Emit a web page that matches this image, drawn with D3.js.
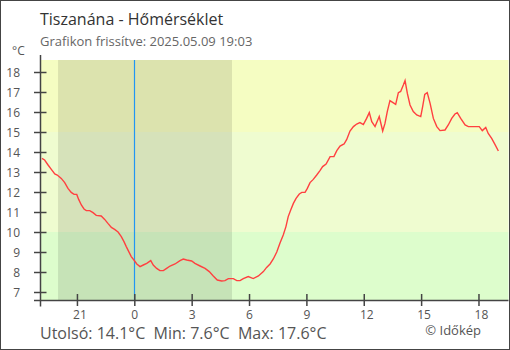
<!DOCTYPE html>
<html>
<head>
<meta charset="utf-8">
<script src="https://cdn.jsdelivr.net/npm/d3@7"></script>
<style>
  html, body { margin: 0; padding: 0; background: #fff; }
  svg { display: block; font-family: "Open Sans", "Noto Sans", sans-serif; }
  text { white-space: pre; }
</style>
</head>
<body>
<svg id="chart" width="510" height="350"></svg>
<script>
// ---- data (hours relative to 2025.05.09 00:00) ----
const hours = [-4.83,-4.69,-4.51,-4.34,-4.16,-4.03,-3.82,-3.64,-3.47,-3.30,-3.15,-3.01,-2.91,-2.77,-2.63,-2.51,-2.33,-2.16,-1.99,-1.73,-1.55,-1.38,-1.20,-1.03,-0.85,-0.68,-0.54,-0.42,-0.29,-0.16,
  -0.02,0.13,0.30,0.47,0.65,0.86,0.99,1.17,1.34,1.52,1.69,1.87,2.13,2.39,2.56,2.74,3.00,3.17,3.44,3.70,3.92,4.13,4.34,4.57,4.74,4.92,5.18,5.36,5.53,5.70,5.96,6.22,6.49,6.75,6.92,7.10,7.27,7.45,
  7.62,7.79,7.93,8.05,8.18,8.32,8.46,8.63,8.76,8.93,9.05,9.19,9.36,9.54,9.71,9.85,10.03,10.24,10.44,10.59,10.76,10.97,11.11,11.28,11.46,11.63,11.80,11.98,12.15,12.29,12.42,12.59,12.81,12.99,
  13.11,13.23,13.37,13.51,13.67,13.81,13.93,14.07,14.16,14.28,14.42,14.59,14.77,14.98,15.08,15.19,15.32,15.47,15.64,15.82,15.99,16.25,16.42,16.60,16.77,16.89,17.07,17.30,17.47,18.04,18.20,18.38,18.51,18.69,18.86,19.04];
const temps = [13.68,13.6,13.35,13.13,12.9,12.85,12.68,12.47,12.18,11.98,11.88,11.88,11.63,11.35,11.15,11.07,11.07,10.97,10.83,10.8,10.63,10.43,10.23,10.13,10.0,9.77,9.52,9.27,9.02,8.77,
  8.6,8.4,8.27,8.35,8.43,8.57,8.35,8.18,8.07,8.07,8.18,8.3,8.4,8.57,8.65,8.6,8.55,8.43,8.3,8.18,8.02,7.8,7.6,7.55,7.57,7.67,7.67,7.57,7.57,7.67,7.77,7.67,7.8,8.02,8.23,8.4,8.65,9.0,
  9.45,9.85,10.27,10.77,11.1,11.43,11.68,11.9,11.98,11.98,12.18,12.47,12.63,12.85,13.07,13.27,13.4,13.77,13.77,14.07,14.3,14.4,14.63,15.05,15.27,15.4,15.47,15.37,15.68,15.97,15.52,15.27,15.77,15.05,
  15.43,16.02,16.57,16.48,16.38,16.97,17.03,17.35,17.57,16.93,16.35,16.02,15.85,15.77,16.27,16.88,16.97,16.43,15.68,15.27,15.07,15.1,15.35,15.68,15.9,15.97,15.68,15.35,15.27,15.27,15.07,15.23,14.93,14.68,14.38,14.05];

const xTickValues = [-3, 0, 3, 6, 9, 12, 15, 18];
const xTickLabels = ["21", "0", "3", "6", "9", "12", "15", "18"];
const yTickValues = [7, 8, 9, 10, 11, 12, 13, 14, 15, 16, 17, 18];
const bandBreaks = [6.6, 10, 15, 18.6];
const bandColors = ["#ddfdcc", "#effcd0", "#f5fdc2"];
const night = [-3.99, 5.11];   // sunset 20:00, sunrise 05:07
const nowMark = 0;             // midnight line
const title = "Tiszanána - Hőmérséklet";
const subtitle = "Grafikon frissítve: 2025.05.09 19:03";
const footer = "Utolsó: 14.1°C  Min: 7.6°C  Max: 17.6°C";
const credit = "© Időkép";
const unit = "°C";

// ---- layout ----
const svg = d3.select("#chart");
const L = 40.5, R = 508.5, T = 60, B = 300;
const x = d3.scaleLinear().domain([-4.906, 19.57]).range([L, R]);
const y = d3.scaleLinear().domain([6.6, 18.6]).range([B, T]);
const axisColor = "#444";

// frame
svg.append("rect").attr("x", 0.5).attr("y", 0.5).attr("width", 509).attr("height", 349)
  .attr("fill", "#fff").attr("stroke", "#444").attr("stroke-width", 1);

// bands
const bands = d3.range(bandColors.length).map(i => ({lo: bandBreaks[i], hi: bandBreaks[i + 1], c: bandColors[i]}));
svg.append("g").selectAll("rect").data(bands).join("rect")
  .attr("x", L).attr("width", R - L)
  .attr("y", d => y(d.hi)).attr("height", d => y(d.lo) - y(d.hi))
  .attr("fill", d => d.c);

// night shading
svg.append("rect")
  .attr("x", x(night[0])).attr("width", x(night[1]) - x(night[0]))
  .attr("y", T).attr("height", B - T)
  .attr("fill", "rgba(0,0,0,0.1)");

// midnight line
svg.append("line")
  .attr("x1", Math.round(x(nowMark)) + 0.5).attr("x2", Math.round(x(nowMark)) + 0.5)
  .attr("y1", T).attr("y2", B)
  .attr("stroke", "#2196f3").attr("stroke-width", 1.2);

// data line
const pts = hours.map((h, i) => [h, temps[i]]);
svg.append("path").datum(pts)
  .attr("fill", "none").attr("stroke", "#ff4040").attr("stroke-width", 1.4)
  .attr("d", d3.line().x(d => x(d[0])).y(d => y(d[1])));

// y axis
const yAxis = d3.axisLeft(y).tickValues(yTickValues).tickSize(0).tickPadding(0).tickFormat(d3.format("d"));
const gy = svg.append("g").attr("transform", `translate(${L},0)`).call(yAxis);
gy.select(".domain").remove();
gy.selectAll(".tick text").attr("x", -20.5).attr("dy", "0.35em")
  .attr("fill", "#555").style("font-size", "12px").style("font-family", "Open Sans");
gy.selectAll(".tick").append("line").attr("x1", -6.5).attr("x2", 6).attr("stroke", axisColor).attr("stroke-width", 1.5);

// x axis
const xAxis = d3.axisBottom(x).tickValues(xTickValues).tickSize(0).tickPadding(0)
  .tickFormat((d, i) => xTickLabels[i]);
const gx = svg.append("g").attr("transform", `translate(0,${B})`).call(xAxis);
gx.select(".domain").remove();
gx.selectAll(".tick text").attr("y", 15).attr("dy", "0.35em")
  .attr("dx", (d, i) => xTickLabels[i].length > 1 ? 2.5 : 0)
  .attr("fill", "#555").style("font-size", "12px").style("font-family", "Open Sans");
gx.selectAll(".tick").append("line").attr("y1", -6).attr("y2", 6).attr("stroke", axisColor).attr("stroke-width", 1.5);

// axis lines
svg.append("line").attr("x1", L).attr("x2", L).attr("y1", 55).attr("y2", 306.5)
  .attr("stroke", axisColor).attr("stroke-width", 1.5);
svg.append("line").attr("x1", 34).attr("x2", R).attr("y1", B + 0.5).attr("y2", B + 0.5)
  .attr("stroke", axisColor).attr("stroke-width", 1.5);

// texts
svg.append("text").attr("x", 40).attr("y", 25).text(title)
  .attr("fill", "#333").style("font-size", "16px");
svg.append("text").attr("x", 40).attr("y", 45.5).text(subtitle)
  .attr("fill", "#666").style("font-size", "13px");
svg.append("text").attr("x", 12).attr("y", 55).text(unit)
  .attr("fill", "#555").style("font-size", "12px");
svg.append("text").attr("x", 40).attr("y", 339).text(footer)
  .attr("fill", "#555").style("font-size", "16px");
svg.append("text").attr("x", 481).attr("y", 335).attr("text-anchor", "end").text(credit)
  .attr("fill", "#555").style("font-size", "13px");
</script>
</body>
</html>
